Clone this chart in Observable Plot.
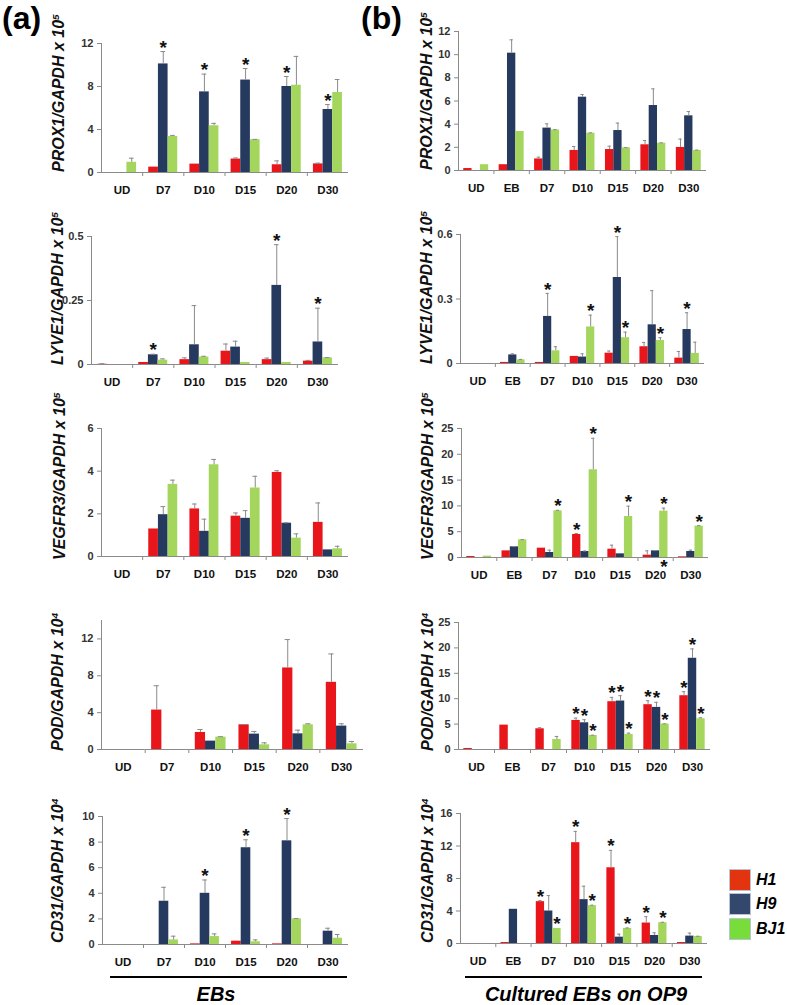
<!DOCTYPE html>
<html><head><meta charset="utf-8">
<script src="https://cdn.jsdelivr.net/npm/d3@7"></script>
<script src="https://cdn.jsdelivr.net/npm/@observablehq/plot@0.6"></script>
<style>
html,body{margin:0;padding:0;background:#fff;}
#root{position:relative;width:787px;height:1005px;overflow:hidden;font-family:"Liberation Sans",Arial,sans-serif;background:#fff;}
.ylab{position:absolute;transform:rotate(-90deg);transform-origin:0 0;white-space:nowrap;font-weight:bold;font-style:italic;font-size:16px;line-height:18px;height:18px;color:#111;}
.ylab sup{font-size:0.62em;vertical-align:0.55em;line-height:0;}
.plet{position:absolute;font-weight:bold;font-size:32px;line-height:32px;color:#000;}
.uline{position:absolute;height:2px;background:#000;}
.grp{position:absolute;font-weight:bold;font-style:italic;font-size:20px;line-height:22px;color:#000;transform:translateX(-50%);white-space:nowrap;}
.lbox{position:absolute;width:20px;height:20px;border:1px solid #b9c3d6;}
.ltxt{position:absolute;font-weight:bold;font-style:italic;font-size:16px;line-height:22px;color:#000;white-space:nowrap;}
</style></head><body><div id="root"></div>
<script>
// ---------- data ----------
const SERIES = ["H1", "H9", "BJ1"];
const CATS_EB = ["UD", "D7", "D10", "D15", "D20", "D30"];
const CATS_OP9 = ["UD", "EB", "D7", "D10", "D15", "D20", "D30"];
// rows = categories; columns = H1, H9, BJ1

const PROX1_EB_MEAN = [[0,0,0.95],[0.5,10.1,3.35],[0.78,7.5,4.35],[1.25,8.6,3.05],[0.72,8.0,8.12],[0.8,5.86,7.44]];
const PROX1_EB_ERR  = [[0,0,0.38],[0,1.15,0.1],[0,1.65,0.22],[0.1,1.07,0.03],[0.36,0.93,2.68],[0.07,0.46,1.21]];
const PROX1_EB_STARS = [["D7","H9"],["D10","H9"],["D15","H9"],["D20","H9"],["D30","H9"]];

const PROX1_OP9_MEAN = [[0.17,0,0.5],[0.5,10.13,3.37],[1.0,3.66,3.5],[1.73,6.33,3.22],[1.81,3.45,1.96],[2.22,5.61,2.36],[1.99,4.72,1.73]];
const PROX1_OP9_ERR  = [[0,0,0],[0,1.15,0],[0.15,0.37,0.03],[0.34,0.23,0.03],[0.29,0.64,0.02],[0.37,1.44,0.03],[0.72,0.37,0.03]];
const PROX1_OP9_STARS = [];

const LYVE1_EB_MEAN = [[0.001,0,0],[0.008,0.038,0.017],[0.019,0.077,0.029],[0.052,0.068,0.008],[0.019,0.309,0.008],[0.013,0.088,0.026]];
const LYVE1_EB_ERR  = [[0.002,0,0],[0,0.002,0.005],[0.007,0.153,0.003],[0.028,0.023,0],[0.006,0.159,0],[0.003,0.132,0.001]];
const LYVE1_EB_STARS = [["D7","H9"],["D20","H9"],["D30","H9"]];

const LYVE1_OP9_MEAN = [[0,0,0],[0.005,0.04,0.017],[0.005,0.219,0.059],[0.033,0.03,0.17],[0.048,0.4,0.12],[0.078,0.18,0.107],[0.025,0.158,0.047]];
const LYVE1_OP9_ERR  = [[0,0,0],[0,0.005,0.002],[0,0.107,0.019],[0,0.015,0.055],[0.01,0.19,0.026],[0.02,0.159,0.013],[0.031,0.078,0.052]];
const LYVE1_OP9_STARS = [["D7","H9"],["D10","BJ1"],["D15","H9"],["D15","BJ1"],["D20","BJ1"],["D30","H9"]];

const VEGFR3_EB_MEAN = [[0,0,0],[1.29,1.96,3.38],[2.23,1.18,4.3],[1.89,1.79,3.21],[3.94,1.56,0.86],[1.6,0.31,0.36]];
const VEGFR3_EB_ERR  = [[0,0,0],[0,0.38,0.2],[0.23,0.57,0.25],[0.15,0.36,0.55],[0.08,0.02,0.2],[0.91,0,0.12]];
const VEGFR3_EB_STARS = [];

const VEGFR3_OP9_MEAN = [[0.19,0,0.26],[1.29,2.07,3.42],[1.81,0.97,9.04],[4.46,1.16,17.0],[1.61,0.71,7.95],[0.45,1.29,8.98],[0.13,1.16,6.07]];
const VEGFR3_OP9_ERR  = [[0,0,0],[0,0.05,0.05],[0,0.45,0.1],[0.19,0.1,6.1],[0.78,0,2.0],[0.84,0.05,0.58],[0,0.26,0.1]];
const VEGFR3_OP9_STARS = [["D7","BJ1"],["D10","H1"],["D10","BJ1"],["D15","BJ1"],["D20","BJ1"],["D30","BJ1"]];
const VEGFR3_OP9_LOW_STARS = [["D20","BJ1"]];

const POD_EB_MEAN = [[0,0,0],[4.28,0,0],[1.85,0.91,1.34],[2.68,1.67,0.51],[8.85,1.7,2.68],[7.29,2.54,0.62]];
const POD_EB_ERR  = [[0,0,0],[2.64,0,0],[0.32,0,0.05],[0.03,0.29,0.21],[3.08,0.4,0.11],[3.08,0.25,0.25]];
const POD_EB_STARS = [];

const POD_OP9_MEAN = [[0.2,0,0],[4.8,0,0],[4.08,0,1.97],[5.72,5.26,2.76],[9.41,9.54,2.96],[8.82,8.29,5.0],[10.59,17.96,6.05]];
const POD_OP9_ERR  = [[0,0,0],[0,0,0],[0.2,0,0.6],[0.46,0.6,0.05],[0.85,1.05,0.26],[0.78,0.99,0.05],[0.79,1.84,0.2]];
const POD_OP9_STARS = [["D10","H1"],["D10","H9"],["D10","BJ1"],["D15","H1"],["D15","H9"],["D15","BJ1"],["D20","H1"],["D20","H9"],["D20","BJ1"],["D30","H1"],["D30","H9"],["D30","BJ1"]];

const CD31_EB_MEAN = [[0,0,0],[0,3.38,0.36],[0.05,4.0,0.62],[0.26,7.56,0.21],[0.05,8.1,2.0],[0,1.04,0.49]];
const CD31_EB_ERR  = [[0,0,0],[0,1.09,0.29],[0,1.04,0.21],[0,0.62,0.15],[0,1.74,0.03],[0,0.23,0.29]];
const CD31_EB_STARS = [["D10","H9"],["D15","H9"],["D20","H9"]];

const CD31_OP9_MEAN = [[0,0,0],[0.12,4.21,0],[5.15,4.0,1.86],[12.41,5.4,4.66],[9.32,0.78,1.86],[2.52,0.99,2.56],[0.12,0.91,0.87]];
const CD31_OP9_ERR  = [[0,0,0],[0,0,0],[0.13,1.9,0],[1.39,1.65,0.05],[2.14,0.37,0.05],[0.78,0.33,0.05],[0,0.37,0.02]];
const CD31_OP9_STARS = [["D7","H1"],["D7","BJ1"],["D10","H1"],["D10","BJ1"],["D15","H1"],["D15","BJ1"],["D20","H1"],["D20","BJ1"]];

const TICKS_12_4 = [0,4,8,12];
const TICKS_12_2 = [0,2,4,6,8,10,12];
const TICKS_LYVE1_EB = [0,0.25,0.5];
const TICKS_LYVE1_OP9 = [0,0.3,0.6];
const TICKS_6 = [0,2,4,6];
const TICKS_25 = [0,5,10,15,20,25];
const TICKS_10 = [0,2,4,6,8,10];
const TICKS_16 = [0,4,8,12,16];

// ---------- styles / layout ----------
const GRAY = "#8a8a8a";
const BAR_COLORS = ["#e8161b", "#263a5f", "#a4d65e"];
const LEGEND_COLORS = ["#e2340f", "#34486e", "#78dc3a"];
const PO = 0.63;
const root = document.getElementById("root");

const panels = [
  {gene:"PROX1", exp:"5", cats:CATS_EB, mean:PROX1_EB_MEAN, err:PROX1_EB_ERR, stars:PROX1_EB_STARS, ymax:12, ticks:TICKS_12_4, X0:101, X1:348, Yt:43, Yb:172, lx:59, lb:172},
  {gene:"PROX1", exp:"5", cats:CATS_OP9, mean:PROX1_OP9_MEAN, err:PROX1_OP9_ERR, stars:PROX1_OP9_STARS, ymax:12, ticks:TICKS_12_2, X0:458, X1:706, Yt:31, Yb:170, lx:427, lb:170},
  {gene:"LYVE1", exp:"5", cats:CATS_EB, mean:LYVE1_EB_MEAN, err:LYVE1_EB_ERR, stars:LYVE1_EB_STARS, ymax:0.5, ticks:TICKS_LYVE1_EB, X0:91, X1:338, Yt:236, Yb:364, lx:58, lb:365},
  {gene:"LYVE1", exp:"5", cats:CATS_OP9, mean:LYVE1_OP9_MEAN, err:LYVE1_OP9_ERR, stars:LYVE1_OP9_STARS, ymax:0.6, ticks:TICKS_LYVE1_OP9, X0:460, X1:704, Yt:234, Yb:363, lx:427, lb:364},
  {gene:"VEGFR3", exp:"5", cats:CATS_EB, mean:VEGFR3_EB_MEAN, err:VEGFR3_EB_ERR, stars:VEGFR3_EB_STARS, ymax:6, ticks:TICKS_6, X0:101, X1:348, Yt:428, Yb:556, lx:60, lb:560},
  {gene:"VEGFR3", exp:"5", cats:CATS_OP9, mean:VEGFR3_OP9_MEAN, err:VEGFR3_OP9_ERR, stars:VEGFR3_OP9_STARS, lowStars:VEGFR3_OP9_LOW_STARS, ymax:25, ticks:TICKS_25, X0:461, X1:708, Yt:428, Yb:557, lx:428, lb:560},
  {gene:"POD", exp:"4", cats:CATS_EB, mean:POD_EB_MEAN, err:POD_EB_ERR, stars:POD_EB_STARS, ymax:14, ticks:TICKS_12_4, X0:101, X1:363, Yt:620, Yb:749, lx:58, lb:751},
  {gene:"POD", exp:"4", cats:CATS_OP9, mean:POD_OP9_MEAN, err:POD_OP9_ERR, stars:POD_OP9_STARS, ymax:25, ticks:TICKS_25, X0:458, X1:710, Yt:622, Yb:749, lx:428, lb:751},
  {gene:"CD31", exp:"4", cats:CATS_EB, mean:CD31_EB_MEAN, err:CD31_EB_ERR, stars:CD31_EB_STARS, ymax:10, ticks:TICKS_10, X0:102, X1:348, Yt:816, Yb:944, lx:58, lb:943},
  {gene:"CD31", exp:"4", cats:CATS_OP9, mean:CD31_OP9_MEAN, err:CD31_OP9_ERR, stars:CD31_OP9_STARS, ymax:16, ticks:TICKS_16, X0:460, X1:707, Yt:813, Yb:943, lx:428, lb:943}
];

function drawPanel(p) {
  const rows = [];
  p.cats.forEach((c, i) => SERIES.forEach((s, j) => rows.push({cat: c, s, v: p.mean[i][j], e: p.err[i][j]})));
  const errRows = rows.filter(d => d.e > 0);
  const topOf = (c, s) => { const r = rows.find(d => d.cat === c && d.s === s); return r.v + r.e; };
  const starRows = p.stars.map(([c, s]) => ({cat: c, s, y: topOf(c, s)}));
  const lowStars = (p.lowStars || []).map(([c, s]) => ({cat: c, s, y: 0}));
  const xstep = (p.X1 - p.X0) / p.cats.length / (3 + 2 * PO);
  const edge = -(PO + 0.5) * xstep;
  const ml = 40, mr = 6, mt = 24, mb = 30;
  const svg = Plot.plot({
    width: ml + (p.X1 - p.X0) + mr,
    height: mt + (p.Yb - p.Yt) + mb,
    marginLeft: ml, marginRight: mr, marginTop: mt, marginBottom: mb,
    facet: {marginTop: 0, marginRight: 0, marginBottom: 0, marginLeft: 0},
    fx: {domain: p.cats, padding: 0, round: false},
    x: {domain: SERIES, paddingInner: 0, paddingOuter: PO, round: false, axis: null},
    y: {domain: [0, p.ymax], axis: null},
    color: {domain: SERIES, range: BAR_COLORS},
    style: {fontFamily: "'Liberation Sans', Arial, sans-serif", fontSize: "11px", fontWeight: "bold", color: "#333", background: "transparent", overflow: "visible"},
    marks: [
      Plot.barY(rows, {fx: "cat", x: "s", y: "v", fill: "s"}),
      Plot.ruleX(errRows, {fx: "cat", x: "s", y1: "v", y2: d => d.v + d.e, stroke: GRAY}),
      Plot.tickY(errRows, {fx: "cat", x: "s", y: d => d.v + d.e, stroke: GRAY, insetLeft: 2.5, insetRight: 2.5}),
      Plot.ruleY([0], {stroke: GRAY}),
      Plot.ruleX([p.cats[0]], {fx: d => d, x: () => "H1", y1: 0, y2: p.ymax, dx: edge, stroke: GRAY}),
      Plot.ruleX(p.cats.slice(1), {fx: d => d, x: () => "H1", y1: 0, y2: 0, insetBottom: -4, dx: edge, stroke: GRAY}),
      Plot.axisY({ticks: p.ticks, tickFormat: d => String(d), tickSize: 4, tickPadding: 4, stroke: GRAY, fill: "#333", label: null}),
      Plot.axisFx({anchor: "bottom", tickSize: 0, tickPadding: 13, fill: "#111", fontSize: 11.5, label: null}),
      Plot.text(starRows, {fx: "cat", x: "s", y: "y", text: () => "*", dy: -4, fontSize: 19, fill: "#111"}),
      Plot.text(lowStars, {fx: "cat", x: "s", y: "y", text: () => "*", dy: 9, fontSize: 19, fill: "#111"})
    ]
  });
  svg.style.position = "absolute";
  svg.style.left = (p.X0 - ml) + "px";
  svg.style.top = (p.Yt - mt) + "px";
  root.appendChild(svg);

  const lab = document.createElement("div");
  lab.className = "ylab";
  lab.innerHTML = p.gene + "/GAPDH x 10<sup>" + p.exp + "</sup>";
  lab.style.left = (p.lx - 9) + "px";
  lab.style.top = p.lb + "px";
  root.appendChild(lab);
}
panels.forEach(drawPanel);

function addDiv(cls, text, css) {
  const d = document.createElement("div");
  d.className = cls;
  if (text) d.textContent = text;
  Object.assign(d.style, css);
  root.appendChild(d);
  return d;
}
addDiv("plet", "(a)", {left: "2px", top: "2px"});
addDiv("plet", "(b)", {left: "361px", top: "2px"});
addDiv("uline", "", {left: "110px", top: "976px", width: "237px"});
addDiv("uline", "", {left: "465px", top: "976px", width: "237px"});
addDiv("grp", "EBs", {left: "216px", top: "983px"});
addDiv("grp", "Cultured EBs on OP9", {left: "586px", top: "983px"});
const LEG_TOPS = [869, 893, 918];
SERIES.forEach((s, i) => {
  addDiv("lbox", "", {left: "729px", top: LEG_TOPS[i] + "px", background: LEGEND_COLORS[i]});
  addDiv("ltxt", s, {left: "756px", top: LEG_TOPS[i] + "px"});
});
</script></body></html>
